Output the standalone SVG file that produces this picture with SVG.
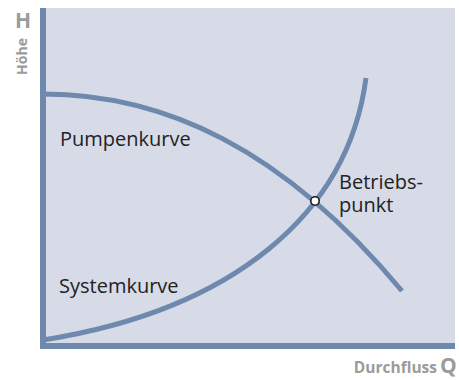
<svg xmlns="http://www.w3.org/2000/svg" width="459" height="380" viewBox="0 0 459 380">
  <style>
    .curve { fill: none; stroke: #6e89ad; stroke-width: 5; stroke-linecap: butt; }
    .axis { fill: #6e89ad; }
    .lbl { font-family: "Open Sans", "Noto Sans", sans-serif; font-size: 20px; fill: #222222; }
    .ax { font-family: "Open Sans", "Noto Sans", sans-serif; font-weight: bold; fill: #9b9b9b; }
  </style>
  <rect id="panel" x="40" y="8" width="415" height="341" fill="#d7dbe8"/>
  <g id="curves">
    <path id="pumpenkurve" class="curve" d="M43,94 C162.7,94 282.3,147.3 402,291"/>
    <path id="systemkurve" class="curve" d="M43,340 C233,310 348,214 366,78"/>
  </g>
  <g id="axes">
    <rect class="axis" x="40" y="8" width="6" height="341"/>
    <rect class="axis" x="40" y="343" width="415" height="6"/>
  </g>
  <g id="betriebspunkt">
    <circle cx="315" cy="201" r="4.2" fill="#ffffff" stroke="#1a1a1a" stroke-width="1.6"/>
  </g>
  <g id="labels">
    <text class="lbl" x="60" y="146">Pumpenkurve</text>
    <text class="lbl" x="59" y="293">Systemkurve</text>
    <text class="lbl" x="339" y="189"><tspan x="339" y="189">Betriebs-</tspan><tspan x="339" y="212">punkt</tspan></text>
  </g>
  <g id="axis-labels">
    <text class="ax" x="23" y="28" font-size="21" text-anchor="middle">H</text>
    <text class="ax" font-size="14" text-anchor="middle" transform="translate(27,56.5) rotate(-90)">Höhe</text>
    <text class="ax" x="437" y="373" font-size="15.5" text-anchor="end">Durchfluss</text>
    <text class="ax" x="440" y="373" font-size="21">Q</text>
  </g>
</svg>
